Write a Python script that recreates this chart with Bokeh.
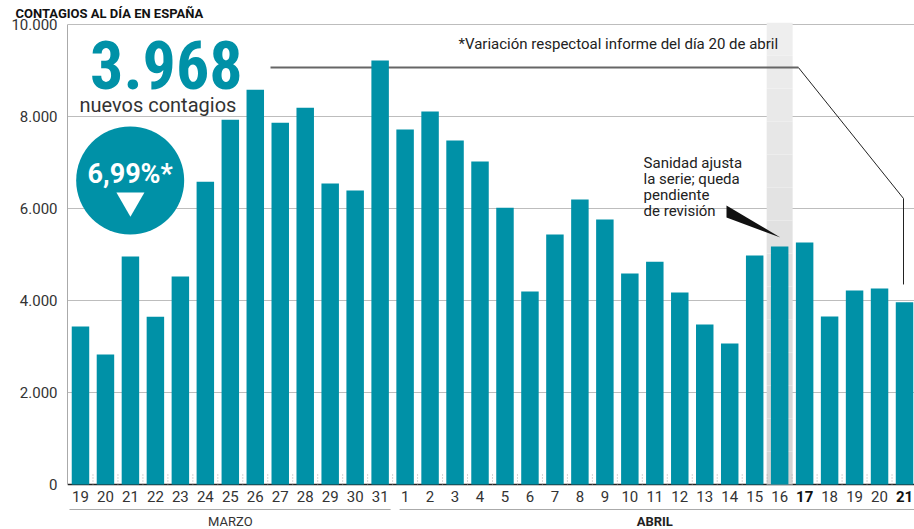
import numpy as np
from bokeh.plotting import figure
from bokeh.models import Range1d, FixedTicker, Span
from bokeh.core.properties import value
from bokeh.embed import file_html
from bokeh.resources import INLINE

# ---------------- data ----------------
days = ["19", "20", "21", "22", "23", "24", "25", "26", "27", "28", "29", "30", "31",
        "1", "2", "3", "4", "5", "6", "7", "8", "9", "10", "11", "12", "13", "14",
        "15", "16", "17", "18", "19", "20", "21"]
cases = [3440, 2830, 4960, 3650, 4525, 6590, 7940, 8590, 7875, 8200, 6550, 6400, 9225,
         7725, 8115, 7485, 7030, 6025, 4200, 5440, 6200, 5765, 4590, 4850, 4180, 3480, 3070,
         4985, 5180, 5265, 3655, 4220, 4265, 3968]
bold_idx = [29, 33]          # "17" and "21" in bold
highlight_idx = 28           # day 16 (revised series)
months = ["MARZO", "ABRIL"]
month_first = [0, 13]
month_last = [12, 33]
y_ticks = [0, 2000, 4000, 6000, 8000, 10000]
y_tick_labels = ["0", "2.000", "4.000", "6.000", "8.000", "10.000"]

title_text = "CONTAGIOS AL DÍA EN ESPAÑA"
headline = "3.968"
headline_sub = "nuevos contagios"
variation = "6,99%*"
footnote = "*Variación respectoal informe del día 20 de abril"
note_lines = ["Sanidad ajusta", "la serie; queda", "pendiente", "de revisión"]

TEAL = "#0091a7"
FONT = "Roboto"

x = list(range(len(days)))

p = figure(width=914, height=529,
           x_range=Range1d(-0.52, 33.4), y_range=Range1d(-979, 10054),
           output_backend="svg", toolbar_location=None,
           x_axis_location=None,
           min_border_left=67, min_border_right=0, min_border_top=22, min_border_bottom=0)
p.outline_line_color = None
p.background_fill_color = "white"
p.border_fill_color = "white"

# title
p.title.text = title_text
p.title.text_font = FONT
p.title.text_font_style = "bold"
p.title.text_font_size = "13px"
p.title.text_color = "#111111"
p.title.align = "left"
p.title.offset = -52
p.title.standoff = 0
p.title.vertical_align = "top"

# y axis
ya = p.yaxis[0]
ya.ticker = FixedTicker(ticks=y_ticks)
ya.major_label_overrides = {t: l for t, l in zip(y_ticks, y_tick_labels)}
ya.bounds = (0, 10000)
ya.axis_line_color = "#aaaaaa"
ya.axis_line_width = 1
ya.major_tick_line_color = None
ya.minor_tick_line_color = None
ya.major_tick_out = 0
ya.major_tick_in = 0
ya.major_label_standoff = 10
ya.major_label_text_font = FONT
ya.major_label_text_font_size = "15px"
ya.major_label_text_color = "#333333"

p.ygrid.ticker = FixedTicker(ticks=y_ticks)
p.ygrid.grid_line_color = "#bdbdbd"
p.ygrid.grid_line_width = 1
p.xgrid.grid_line_color = None

# baseline
p.add_layout(Span(location=0, dimension="width", line_color="#222222",
                  line_width=1.5, level="underlay"))

# highlight band (vertical gradient)
nb = 14
edges = np.linspace(0, 10054, nb + 1)
greys = np.linspace(0xd2, 0xee, nb).astype(int)
cols = ["#%02x%02x%02x" % (g, g, g) for g in greys]
p.quad(left=[highlight_idx - 0.52] * nb, right=[highlight_idx + 0.52] * nb,
       bottom=edges[:-1], top=edges[1:], fill_color=cols, line_color=None)

# dotted separators between bars
sep_x = [i + 0.5 for i in range(len(days) - 1)]
p.segment(x0=sep_x, x1=sep_x, y0=[0] * len(sep_x), y1=[240] * len(sep_x),
          line_color="#aaaaaa", line_width=1, line_dash="1 2")

# callout line (behind bars)
p.line(x=[7.61, 28.75], y=[9075, 9075], line_color="#666666", line_width=1.8)
p.line(x=[28.75, 32.96, 32.96], y=[9075, 6224, 4353], line_color="#222222", line_width=1)

# bars
p.vbar(x=x, top=cases, width=0.7, bottom=0, fill_color=TEAL, line_color=None)

# x tick labels
norm = [i for i in x if i not in bold_idx]
p.text(x=norm, y=[-255] * len(norm), text=[days[i] for i in norm],
       text_font=value(FONT), text_font_size="15px", text_color="#333333",
       text_align="center", text_baseline="middle")
p.text(x=bold_idx, y=[-255] * len(bold_idx), text=[days[i] for i in bold_idx],
       text_font=value(FONT), text_font_size="15px", text_font_style="bold",
       text_color="#111111", text_align="center", text_baseline="middle")

# month groups
p.segment(x0=[month_first[0] - 0.44, month_first[1] - 0.22],
          x1=[month_last[0] + 0.42, month_last[1] + 0.4],
          y0=[-544, -544], y1=[-544, -544], line_color="#aaaaaa", line_width=1.2)
p.text(x=[(month_first[0] + month_last[0]) / 2], y=[-805], text=[months[0]],
       text_font=value(FONT), text_font_size="13px", text_color="#333333",
       text_align="center", text_baseline="middle")
p.text(x=[(month_first[1] + month_last[1]) / 2], y=[-805], text=[months[1]],
       text_font=value(FONT), text_font_size="13px", text_font_style="bold",
       text_color="#222222", text_align="center", text_baseline="middle")

# headline
p.text(x=[3.44], y=[9140], text=[headline], text_font=value("Roboto Condensed"),
       text_font_style="bold", text_font_size="66px", text_color=TEAL,
       text_align="center", text_baseline="middle")
p.text(x=[3.1], y=[8259], text=[headline_sub], text_font=value(FONT),
       text_font_size="20px", text_color="#333333",
       text_align="center", text_baseline="middle")

# variation badge
p.scatter(x=[1.99], y=[6616], size=108, marker="circle", fill_color=TEAL, line_color=None)
p.text(x=[1.99], y=[6768], text=[variation], text_font=value(FONT),
       text_font_style="bold", text_font_size="27px", text_color="white",
       text_align="center", text_baseline="middle")
p.scatter(x=[2.0], y=[6181], size=28, marker="inverted_triangle",
          fill_color="white", line_color=None)

# footnote
p.text(x=[15.14], y=[9597], text=[footnote], text_font=value(FONT),
       text_font_size="15px", text_color="#222222",
       text_align="left", text_baseline="middle")

# note about revision
p.text(x=[22.55] * 4, y=[6986, 6644, 6296, 5954], text=note_lines, text_font=value(FONT),
       text_font_size="15px", text_color="#222222",
       text_align="left", text_baseline="middle")
p.patch(x=[25.87, 25.87, 28.03], y=[6072, 5811, 5375], fill_color="#111111", line_color=None)

open("out.html", "w").write(file_html(p, INLINE))
